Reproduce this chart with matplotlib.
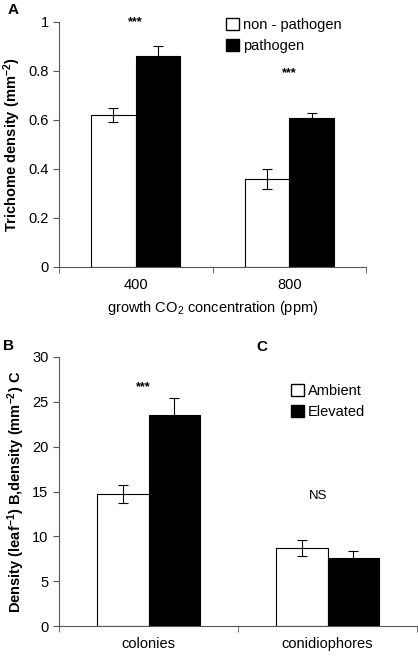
import numpy as np
import matplotlib
matplotlib.use("Agg")
import matplotlib.pyplot as plt
from matplotlib.patches import Patch

plt.rcParams['font.family'] = ['Liberation Sans', 'DejaVu Sans']
plt.rcParams['mathtext.fontset'] = 'custom'
plt.rcParams['mathtext.rm'] = 'Liberation Sans'
plt.rcParams['mathtext.bf'] = 'Liberation Sans:bold'
plt.rcParams['mathtext.default'] = 'regular'

# panel A data
co2_levels = ['400', '800']
nonpath_mean = [0.62, 0.36]
nonpath_err = [0.03, 0.04]
path_mean = [0.86, 0.61]
path_err = [0.04, 0.02]
sig_a = ['***', '***']

# panel B/C data
counts = ['colonies', 'conidiophores']
ambient_mean = [14.7, 8.7]
ambient_err = [1.0, 0.85]
elevated_mean = [23.5, 7.6]
elevated_err = [1.9, 0.8]
sig_b = ['***', 'NS']

fig = plt.figure(figsize=(4.18, 6.57), dpi=100)
fs = 10.5
grey = '#555555'
bw = 0.29


def style_axes(ax, n):
    for s in ['top', 'right']:
        ax.spines[s].set_visible(False)
    for s in ['left', 'bottom']:
        ax.spines[s].set_color(grey)
    ax.set_xlim(0, n)
    ax.set_xticks(np.arange(n) + 0.5)
    ax.set_xticks(np.arange(n + 1), minor=True)
    ax.tick_params(axis='x', which='major', length=0, labelsize=fs, pad=8)
    ax.tick_params(axis='x', which='minor', length=4, color=grey)
    ax.tick_params(axis='y', length=4, color=grey, labelsize=fs)


def draw_pairs(ax, m1, e1, m2, e2):
    x = np.arange(len(m1)) + 0.5
    ax.bar(x - bw / 2, m1, bw, color='white', edgecolor='black', linewidth=0.8)
    ax.bar(x + bw / 2, m2, bw, color='black', edgecolor='black', linewidth=0.8)
    ax.errorbar(x - bw / 2, m1, yerr=e1, fmt='none', ecolor='black', elinewidth=0.8, capsize=3.5, capthick=0.8)
    ax.errorbar(x + bw / 2, m2, yerr=e2, fmt='none', ecolor='black', elinewidth=0.8, capsize=3.5, capthick=0.8)
    return x


# ---- panel A ----
axA = fig.add_axes([59 / 418, 1 - 267 / 657, (366 - 59) / 418, (267 - 22) / 657])
xa = draw_pairs(axA, nonpath_mean, nonpath_err, path_mean, path_err)
style_axes(axA, 2)
axA.set_ylim(0, 1)
axA.set_yticks([0, 0.2, 0.4, 0.6, 0.8, 1])
axA.set_yticklabels(['0', '0.2', '0.4', '0.6', '0.8', '1'])
axA.set_xticklabels(co2_levels)
axA.set_ylabel(r'Trichome density (mm$^{\mathbf{-2}}$)', fontsize=fs, fontweight='bold', labelpad=4)
axA.set_xlabel('growth CO$_2$ concentration (ppm)', fontsize=fs, labelpad=5)
axA.text(xa[0], 1.0, sig_a[0], ha='center', va='center', fontsize=9, fontweight='bold')
axA.text(xa[1], 0.79, sig_a[1], ha='center', va='center', fontsize=9, fontweight='bold')
axA.legend(handles=[Patch(facecolor='white', edgecolor='black', label='non - pathogen'),
                    Patch(facecolor='black', edgecolor='black', label='pathogen')],
           loc='upper left', bbox_to_anchor=(0.5, 1.07), frameon=False, fontsize=fs,
           handlelength=0.9, handleheight=0.9, handletextpad=0.3, labelspacing=0.5)
fig.text(8 / 418, 1 - 10 / 657, 'A', fontsize=11, fontweight='bold', va='center')

# ---- panel B/C ----
axB = fig.add_axes([59 / 418, 1 - 626 / 657, (417 - 59) / 418, (626 - 357) / 657])
xb = draw_pairs(axB, ambient_mean, ambient_err, elevated_mean, elevated_err)
style_axes(axB, 2)
axB.set_ylim(0, 30)
axB.set_yticks([0, 5, 10, 15, 20, 25, 30])
axB.set_xticklabels(counts)
axB.set_ylabel(r'Density (leaf$^{\mathbf{-1}}$) B,density (mm$^{\mathbf{-2}}$) C',
               fontsize=fs, fontweight='bold', labelpad=4)
axB.text(xb[0] - 0.03, 26.6, sig_b[0], ha='center', va='center', fontsize=9, fontweight='bold')
axB.text(xb[1] - 0.05, 14.5, sig_b[1], ha='center', va='center', fontsize=fs - 1)
axB.legend(handles=[Patch(facecolor='white', edgecolor='black', label='Ambient'),
                    Patch(facecolor='black', edgecolor='black', label='Elevated')],
           loc='upper left', bbox_to_anchor=(0.61, 0.95), frameon=False, fontsize=fs,
           handlelength=0.9, handleheight=0.9, handletextpad=0.3, labelspacing=0.5)
fig.text(3 / 418, 1 - 346 / 657, 'B', fontsize=11, fontweight='bold', va='center')
fig.text(256 / 418, 1 - 347 / 657, 'C', fontsize=11, fontweight='bold', va='center')

fig.savefig('out.png', dpi=100)
